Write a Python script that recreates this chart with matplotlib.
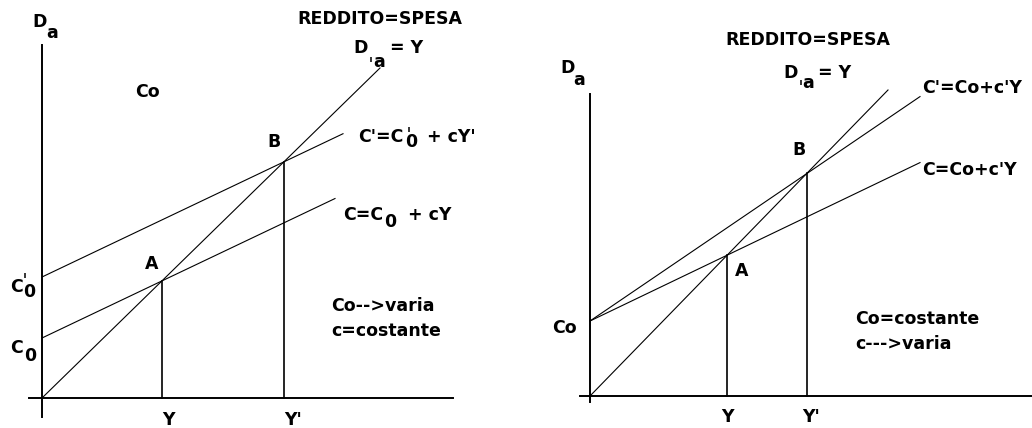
"""
Reddito = spesa: due grafici (Co varia / c varia)
"""

import numpy as np
from matplotlib import pyplot as plt

plt.rcParams['font.family'] = 'DejaVu Sans'

# left panel: Co --> varia, c costante
left_intercepts = [60, 121]     # C0, C0'
left_slope = 0.476              # c
left_line_end = [293, 301]      # where C and C' stop
left_diag_end = [338, 330]      # Da = Y line end
left_eq_x = [120, 242]          # Y, Y'

# right panel: Co costante, c --> varia
right_intercept = 75            # C0
right_slopes = [0.48, 0.68]     # c, c'
right_line_end = [330, 330]
right_diag_end = [298, 306]
right_eq_x = [137, 217]         # Y, Y'

FS = 12.5


def txt(ax, x, y, s, size=FS, ha='left'):
    ax.text(x, y, s, fontsize=size, ha=ha, va='baseline', color='black',
            fontweight='bold')


def tick(ax, x, y0, y1):
    # small prime stroke drawn as a line
    ax.plot([x, x], [y0, y1], color='black', lw=1.1, solid_capstyle='butt')


fig = plt.figure(figsize=(10.32, 4.28), dpi=100)
axl = fig.add_axes([0, 0, 0.5, 1])
axr = fig.add_axes([0.5, 0, 0.5, 1])
axl.set_xlim(-42, 474)
axl.set_ylim(-30, 398)
axr.set_xlim(-74, 442)
axr.set_ylim(-32, 396)
for ax in (axl, axr):
    ax.axis('off')

# ---- left panel
axl.plot([0, 0], [-19, 353], color='black', lw=1.4)
axl.plot([-13, 411], [0, 0], color='black', lw=1.4)
for b, xe in zip(left_intercepts, left_line_end):
    xs = np.array([0, xe])
    axl.plot(xs, b + left_slope * xs, color='black', lw=0.8)
axl.plot([0, left_diag_end[0]], [0, left_diag_end[1]], color='black', lw=0.8)
k = left_diag_end[1] / left_diag_end[0]
for x in left_eq_x:
    axl.plot([x, x], [0, k * x], color='black', lw=1.2)

ya, yb = left_eq_x
txt(axl, -10, 371, 'D')
txt(axl, 4, 360, 'a')
txt(axl, 255, 374, 'REDDITO=SPESA')
txt(axl, 311, 345, 'D')
tick(axl, 329, 336, 341)
txt(axl, 331, 331, 'a')
txt(axl, 348, 345, '= Y')
txt(axl, 93, 301, 'Co')
txt(axl, yb - 17, k * yb + 15, 'B')
txt(axl, ya - 17, k * ya + 12, 'A')
txt(axl, 316, 256, "C'=C")
tick(axl, 367, 266, 271)
txt(axl, 363, 251, '0')
txt(axl, 379, 256, ' + cY\'')
txt(axl, 301, 178, 'C=C')
txt(axl, 342, 171, '0')
txt(axl, 366, 178, '+ cY')
txt(axl, -32, 106, 'C')
tick(axl, -17, 120, 125)
txt(axl, -19, 101, '0')
txt(axl, -32, 45, 'C')
txt(axl, -18, 37, '0')
txt(axl, 289, 87, 'Co-->varia')
txt(axl, 289, 62, 'c=costante')
txt(axl, ya + 6, -27, 'Y', ha='center')
txt(axl, yb + 9, -27, "Y'", ha='center')

# ---- right panel
axr.plot([0, 0], [-6, 302], color='black', lw=1.4)
axr.plot([-10, 442], [0, 0], color='black', lw=1.4)
for c, xe in zip(right_slopes, right_line_end):
    xs = np.array([0, xe])
    axr.plot(xs, right_intercept + c * xs, color='black', lw=0.8)
axr.plot([0, right_diag_end[0]], [0, right_diag_end[1]], color='black', lw=0.8)
k = right_diag_end[1] / right_diag_end[0]
for x in right_eq_x:
    axr.plot([x, x], [0, k * x], color='black', lw=1.2)

ya, yb = right_eq_x
txt(axr, -30, 323, 'D')
txt(axr, -17, 311, 'a')
txt(axr, 135, 351, 'REDDITO=SPESA')
txt(axr, 193, 318, 'D')
tick(axr, 211, 311, 316)
txt(axr, 212, 308, 'a')
txt(axr, 228, 318, '= Y')
txt(axr, yb - 15, k * yb + 18, 'B')
txt(axr, ya + 8, k * ya - 21, 'A')
txt(axr, 332, 303, "C'=Co+c'Y")
txt(axr, 332, 221, "C=Co+c'Y")
txt(axr, -38, 63, 'Co')
txt(axr, 265, 72, 'Co=costante')
txt(axr, 265, 47, 'c--->varia')
txt(axr, ya, -26, 'Y', ha='center')
txt(axr, yb + 4, -26, "Y'", ha='center')

fig.savefig('out.png', dpi=100)
